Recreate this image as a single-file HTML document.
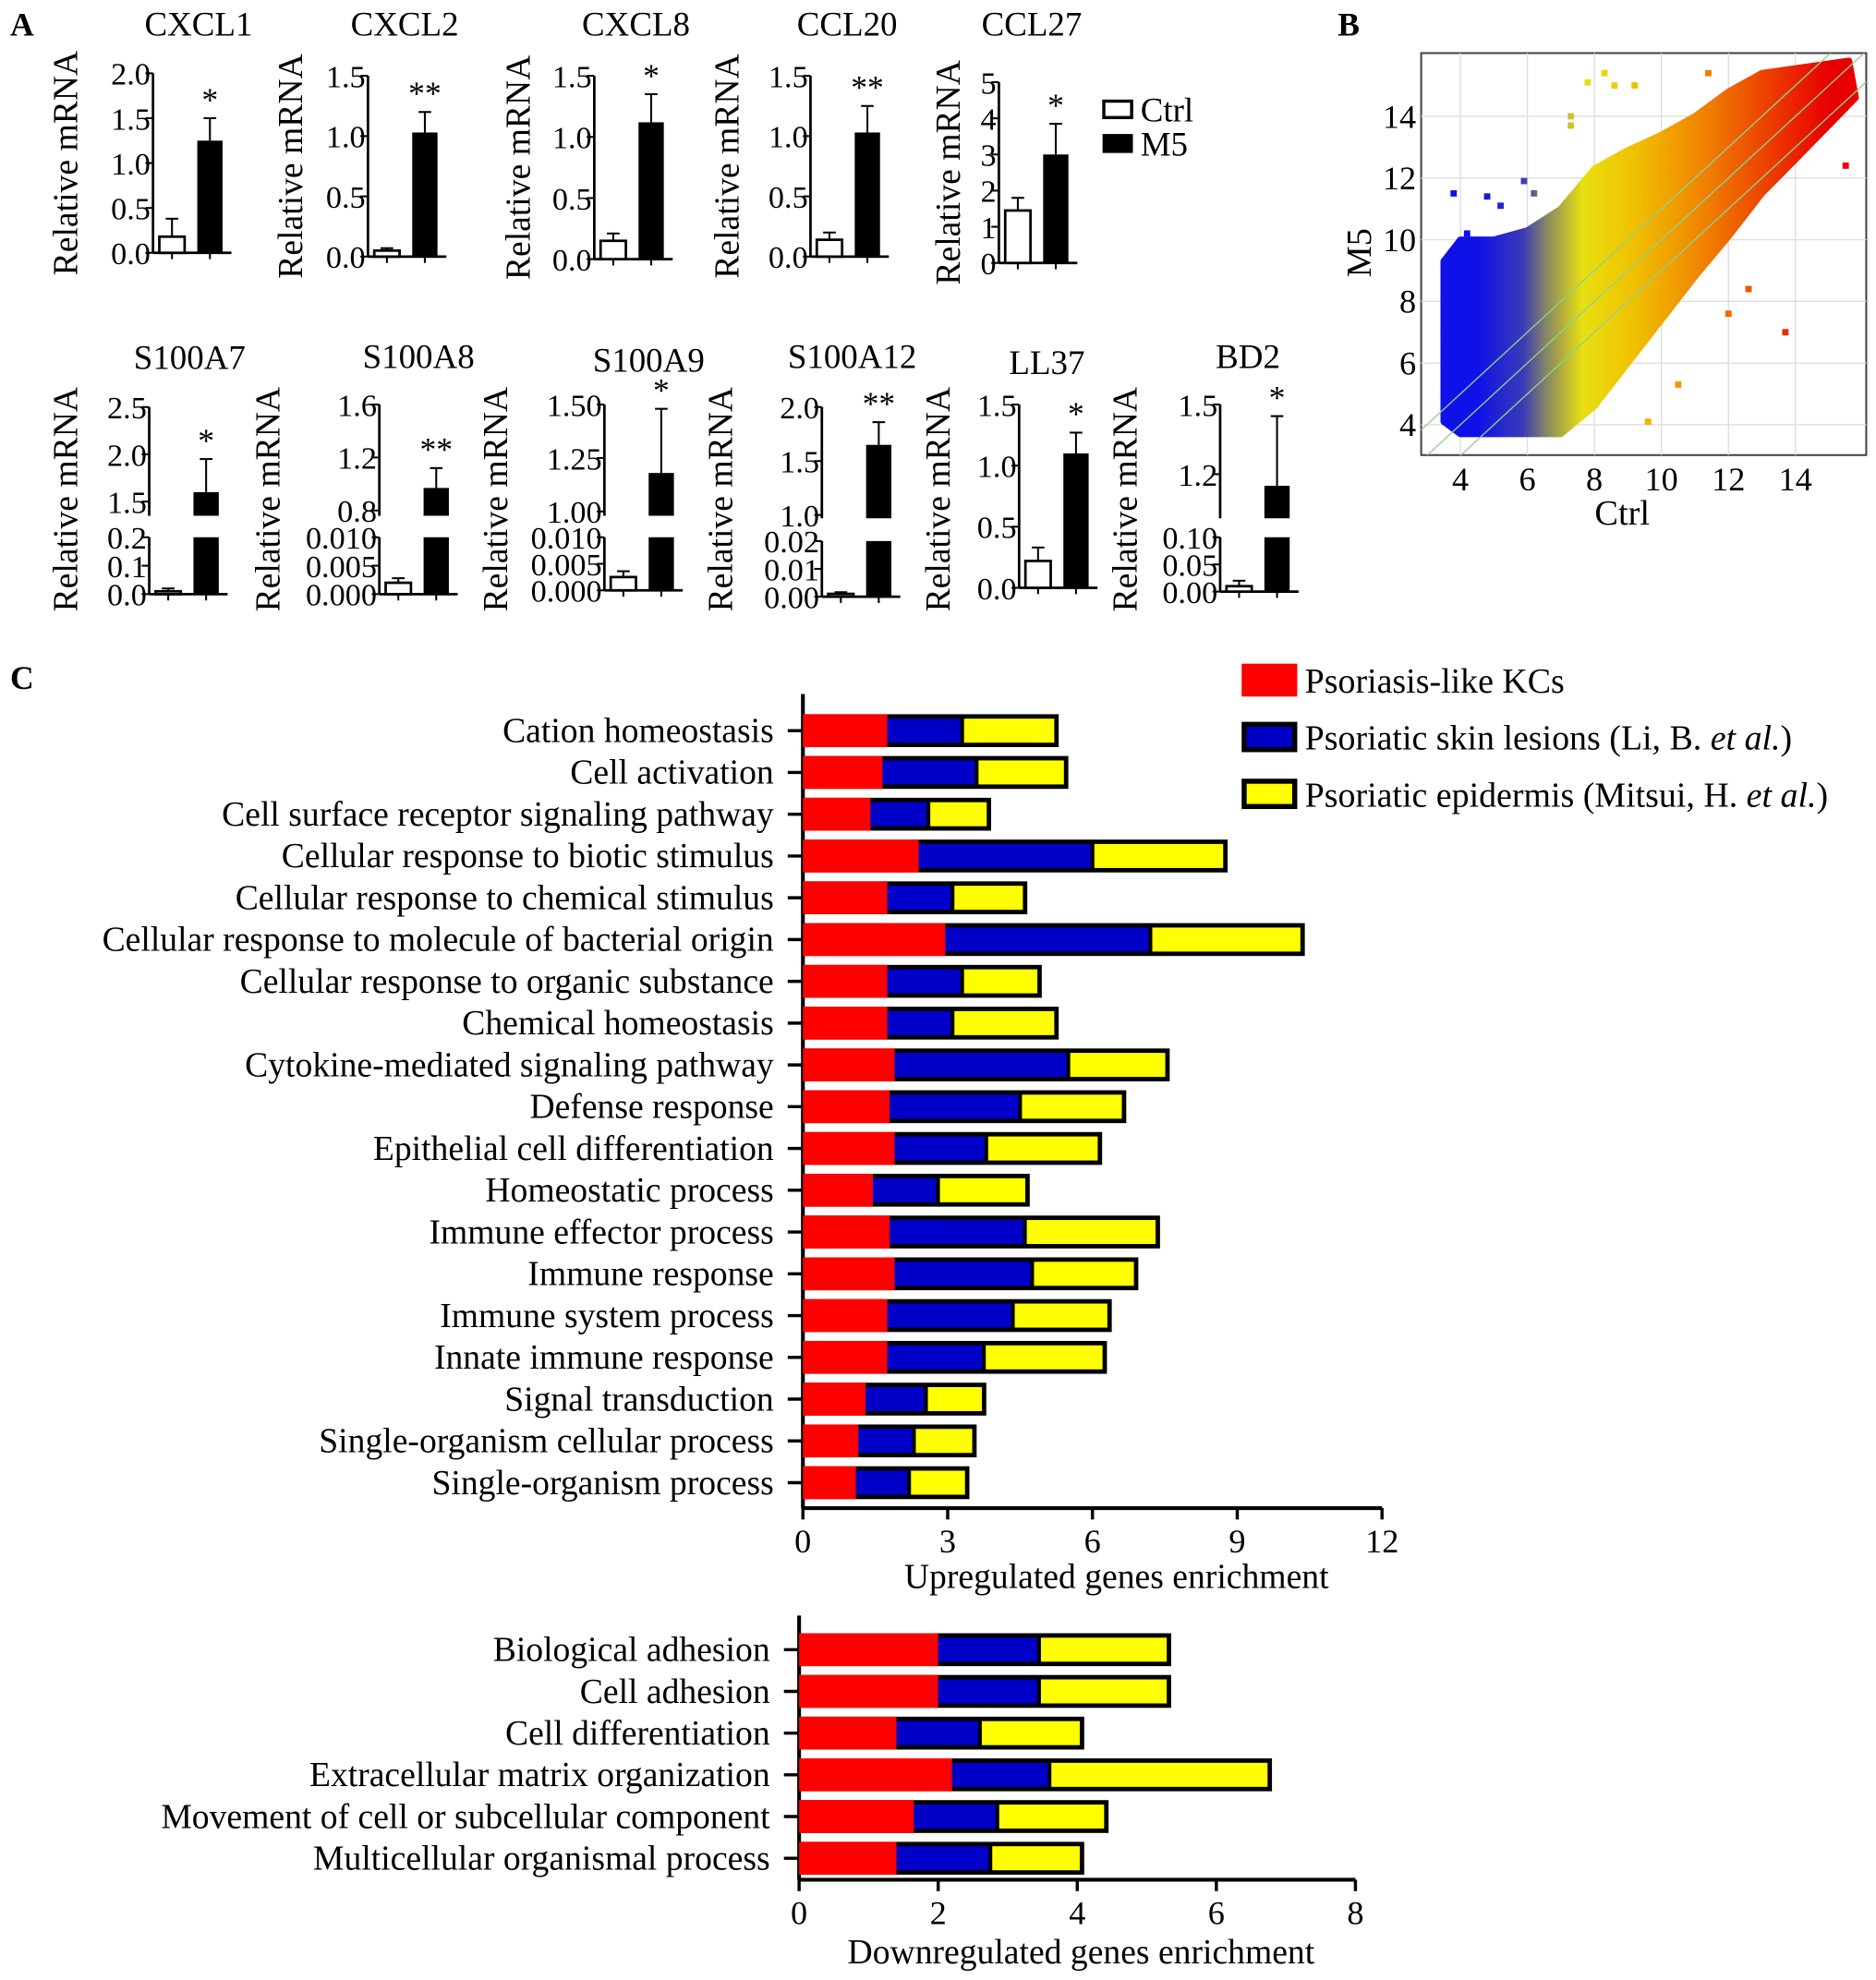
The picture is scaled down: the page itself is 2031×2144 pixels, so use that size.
<!DOCTYPE html>
<html><head><meta charset="utf-8"><style>
html,body{margin:0;padding:0;background:#fff}
svg{display:block}
text{font-family:"Liberation Serif",serif;fill:#000}
</style></head><body>
<svg id="fig" xmlns="http://www.w3.org/2000/svg" width="2031" height="2144" viewBox="0 0 1483.7 1566.3">
<rect width="1483.7" height="1566.3" fill="#fff"/>
<text x="8" y="28" font-size="26" font-weight="bold">A</text>
<text x="1058" y="28" font-size="26" font-weight="bold">B</text>
<text x="8" y="545" font-size="26" font-weight="bold">C</text>
<g id="pa"></g>
<g id="pb"></g>
<g id="pc"></g>
</svg>
<script>
// ---- Panel A data ----
const genesTop = ["CXCL1","CXCL2","CXCL8","CCL20","CCL27"];
const ctrlTop = [0.18,0.05,0.15,0.14,1.45];
const ctrlTopErr = [0.38,0.07,0.21,0.2,1.8];
const m5Top = [1.25,1.03,1.12,1.03,3.0];
const m5TopErr = [1.5,1.2,1.35,1.25,3.85];
const sigTop = ["*","**","*","**","*"];
const ticksTop = [["0.0","0.5","1.0","1.5","2.0"],["0.0","0.5","1.0","1.5"],["0.0","0.5","1.0","1.5"],["0.0","0.5","1.0","1.5"],["0","1","2","3","4","5"]];
const genesBot = ["S100A7","S100A8","S100A9","S100A12","LL37","BD2"];
const ctrlBot = [0.01,0.002,0.0025,0.001,0.22,0.01];
const ctrlBotErr = [0.02,0.0028,0.0036,0.0016,0.33,0.02];
const m5Bot = [1.6,0.97,1.18,1.65,1.1,1.15];
const m5BotErr = [1.95,1.12,1.48,1.86,1.27,1.45];
const sigBot = ["*","**","*","**","*","*"];
const ticksBotLow = [["0.0","0.1","0.2"],["0.000","0.005","0.010"],["0.000","0.005","0.010"],["0.00","0.01","0.02"],["0.0","0.5","1.0","1.5"],["0.00","0.05","0.10"]];
const ticksBotUp = [["1.5","2.0","2.5"],["0.8","1.2","1.6"],["1.00","1.25","1.50"],["1.0","1.5","2.0"],[],["1.2","1.5"]];

// ---- Panel B data ----
const bandUpperX = [3.5,4,5,6,7,8,9,10,11,12,13,15.6];
const bandUpperY = [9.3,10,10,10.3,11,12.3,12.9,13.4,14,14.8,15.4,15.8];
const bandLowerX = [15.8,14,13,12,11,10,9,8,7,6,5,4,3.5];
const bandLowerY = [14.6,12.6,11.5,10.1,8.8,7.4,6,4.6,3.7,3.7,3.7,3.7,4.1];
const outX = [3.8,4.8,5.2,5.9,6.2,7.3,7.8,8.3,8.6,9.2,7.3,11.4,12.6,13.7,15.5,12.0,9.6,10.5,4.2,3.5];
const outY = [11.5,11.4,11.1,11.9,11.5,14.0,15.1,15.4,15.0,15.0,13.7,15.4,8.4,7.0,12.4,7.6,4.1,5.3,10.2,6.9];

// ---- Panel C data ----
const upCats = ["Cation homeostasis","Cell activation","Cell surface receptor signaling pathway","Cellular response to biotic stimulus","Cellular response to chemical stimulus","Cellular response to molecule of bacterial origin","Cellular response to organic substance","Chemical homeostasis","Cytokine-mediated signaling pathway","Defense response","Epithelial cell differentiation","Homeostatic process","Immune effector process","Immune response","Immune system process","Innate immune response","Signal transduction","Single-organism cellular process","Single-organism process"];
const upKC = [1.75,1.65,1.4,2.4,1.75,2.95,1.75,1.75,1.9,1.8,1.9,1.45,1.8,1.9,1.75,1.75,1.3,1.15,1.1];
const upLi = [1.55,1.95,1.2,3.6,1.35,4.25,1.55,1.35,3.6,2.7,1.9,1.35,2.8,2.85,2.6,2.0,1.25,1.15,1.1];
const upMitsui = [2.0,1.9,1.3,2.8,1.55,3.2,1.65,2.2,2.1,2.2,2.4,1.9,2.8,2.2,2.05,2.55,1.25,1.3,1.25];
const upTicks = [0,3,6,9,12];
const downCats = ["Biological adhesion","Cell adhesion","Cell differentiation","Extracellular matrix organization","Movement of cell or subcellular component","Multicellular organismal process"];
const downKC = [2.0,2.0,1.4,2.2,1.65,1.4];
const downLi = [1.45,1.45,1.2,1.4,1.2,1.35];
const downMitsui = [1.9,1.9,1.5,3.2,1.6,1.35];
const downTicks = [0,2,4,6,8];

const NS = "http://www.w3.org/2000/svg";
function mk(tag, at, parent){ const e=document.createElementNS(NS,tag); for(const k in at) e.setAttribute(k,at[k]); parent.appendChild(e); return e; }
function txt(s, at, parent){ const e=mk("text",at,parent); e.textContent=s; return e; }

// ===== Panel A =====
const pa = document.getElementById("pa");
const topLayout = [
 {ax:121,yT:58,yB:200,max:2.0,tx:157,lx:52},
 {ax:291,yT:60,yB:203,max:1.5,tx:320,lx:230},
 {ax:470,yT:60,yB:205,max:1.5,tx:503,lx:410},
 {ax:641,yT:60,yB:203,max:1.5,tx:670,lx:575},
 {ax:790,yT:65,yB:208,max:5,tx:816,lx:750}];
function drawErr(g,x,y1,y2){
  const l=mk("line",{x1:x,x2:x,y1:y1,y2:y2,stroke:"#000","stroke-width":1.5},g);
   
  const c=mk("line",{x1:x-5,x2:x+5,y1:y2,y2:y2,stroke:"#000","stroke-width":1.5},g);
   
}
function barChartCommon(g,L,title,ty,lyc){
  const t=txt(title,{x:L.tx,y:ty,"font-size":27,"text-anchor":"middle"},g);
   
  const yl=txt("Relative mRNA",{x:0,y:0,"font-size":27.5,"text-anchor":"middle",transform:`translate(${L.lx+9},${lyc}) rotate(-90)`},g);
   
}
genesTop.forEach((gname,i)=>{
  const L=topLayout[i];
  const g=mk("g",{},pa);
   
  const y=v=>L.yB-(v/L.max)*(L.yB-L.yT);
  barChartCommon(g,L,gname,28,(L.yT+L.yB)/2);
  const ax=mk("line",{x1:L.ax,x2:L.ax,y1:L.yT,y2:L.yB,stroke:"#000","stroke-width":2},g);
   
  const bl=mk("line",{x1:L.ax,x2:L.ax+62,y1:L.yB,y2:L.yB,stroke:"#000","stroke-width":2},g);
   
  const tk=ticksTop[i]; const step=L.max/(tk.length-1);
  tk.forEach((s,j)=>{ const yy=y(j*step);
    const tl=mk("line",{x1:L.ax-6,x2:L.ax,y1:yy,y2:yy,stroke:"#000","stroke-width":1.5},g);
     
    const tt=txt(s,{x:L.ax-2,y:yy+9,"font-size":25,"text-anchor":"end"},g);
     
  });
  [L.ax+15,L.ax+45].forEach(xx=>{const m=mk("line",{x1:xx,x2:xx,y1:L.yB,y2:L.yB+5,stroke:"#000","stroke-width":1.5},g);
     });
  drawErr(g,L.ax+15,y(ctrlTop[i]),y(ctrlTopErr[i]));
  drawErr(g,L.ax+45,y(m5Top[i]),y(m5TopErr[i]));
  const b1=mk("rect",{x:L.ax+5,y:y(ctrlTop[i]),width:20,height:L.yB-y(ctrlTop[i]),fill:"#fff",stroke:"#000","stroke-width":2},g);
   
  const b2=mk("rect",{x:L.ax+35,y:y(m5Top[i]),width:20,height:L.yB-y(m5Top[i]),fill:"#000"},g);
   
  const st=txt(sigTop[i],{x:L.ax+45,y:y(m5TopErr[i])-6,"font-size":26,"text-anchor":"middle"},g);
   
});
// legend A
{
 const lg=mk("g",{},pa);  
 const r1=mk("rect",{x:873,y:80,width:22,height:13,fill:"#fff",stroke:"#000","stroke-width":2.5},lg);
  
 const t1=txt("Ctrl",{x:902,y:96,"font-size":27},lg);
  
 const r2=mk("rect",{x:872,y:106,width:24,height:15,fill:"#000"},lg);
  
 const t2=txt("M5",{x:902,y:123,"font-size":27},lg);
  
}
const botLayout = [
 {ax:118,yB:470,yLT:425,loMax:0.2,yBr:408,yT:322,upMin:1.35,upMax:2.5,tx:150,ty:292,lx:52},
 {ax:300,yB:470,yLT:425,loMax:0.010,yBr:408,yT:320,upMin:0.76,upMax:1.6,tx:331,ty:291,lx:212},
 {ax:478,yB:467,yLT:425,loMax:0.010,yBr:408,yT:320,upMin:0.98,upMax:1.5,tx:513,ty:294,lx:392},
 {ax:650,yB:472,yLT:428,loMax:0.02,yBr:410,yT:322,upMin:0.97,upMax:2.0,tx:674,ty:291,lx:570},
 {ax:806,yB:465,yLT:320,loMax:1.5,yBr:null,tx:828,ty:296,lx:742},
 {ax:965,yB:468,yLT:425,loMax:0.10,yBr:410,yT:320,upMin:1.01,upMax:1.5,tx:987,ty:291,lx:890}];
genesBot.forEach((gname,i)=>{
  const L=botLayout[i];
  const g=mk("g",{},pa);
   
  const broken = L.yBr!==null;
  const y=v=>{ if(v<=L.loMax||!broken) return L.yB-(v/L.loMax)*(L.yB-L.yLT);
    return L.yBr-((v-L.upMin)/(L.upMax-L.upMin))*(L.yBr-L.yT); };
  barChartCommon(g,L,gname,L.ty,395);
  const a1=mk("line",{x1:L.ax,x2:L.ax,y1:L.yLT,y2:L.yB,stroke:"#000","stroke-width":2},g);
   
  if(broken){ const a2=mk("line",{x1:L.ax,x2:L.ax,y1:L.yT,y2:L.yBr,stroke:"#000","stroke-width":2},g);
      }
  const bl=mk("line",{x1:L.ax,x2:L.ax+62,y1:L.yB,y2:L.yB,stroke:"#000","stroke-width":2},g);
   
  const lo=ticksBotLow[i];
  lo.forEach((s,j)=>{ const yy=L.yB-(j/(lo.length-1))*(L.yB-L.yLT);
    const tl=mk("line",{x1:L.ax-6,x2:L.ax,y1:yy,y2:yy,stroke:"#000","stroke-width":1.5},g);
     
    const tt=txt(s,{x:L.ax-2,y:yy+9,"font-size":25,"text-anchor":"end"},g);
     });
  ticksBotUp[i].forEach(s=>{ const yy=y(parseFloat(s));
    const tl=mk("line",{x1:L.ax-6,x2:L.ax,y1:yy,y2:yy,stroke:"#000","stroke-width":1.5},g);
     
    const tt=txt(s,{x:L.ax-2,y:yy+9,"font-size":25,"text-anchor":"end"},g);
     });
  [L.ax+15,L.ax+45].forEach(xx=>{const m=mk("line",{x1:xx,x2:xx,y1:L.yB,y2:L.yB+5,stroke:"#000","stroke-width":1.5},g);
     });
  drawErr(g,L.ax+15,y(ctrlBot[i]),y(ctrlBotErr[i]));
  drawErr(g,L.ax+45,y(m5Bot[i]),y(m5BotErr[i]));
  const b1=mk("rect",{x:L.ax+5,y:y(ctrlBot[i]),width:20,height:Math.max(2,L.yB-y(ctrlBot[i])),fill:"#fff",stroke:"#000","stroke-width":2},g);
   
  if(broken && m5Bot[i]>L.loMax){
    const b2=mk("rect",{x:L.ax+35,y:L.yLT,width:20,height:L.yB-L.yLT,fill:"#000"},g);
     
    const b3=mk("rect",{x:L.ax+35,y:y(m5Bot[i]),width:20,height:L.yBr-y(m5Bot[i]),fill:"#000"},g);
     
  } else {
    const b2=mk("rect",{x:L.ax+35,y:y(m5Bot[i]),width:20,height:L.yB-y(m5Bot[i]),fill:"#000"},g);
     
  }
  const st=txt(sigBot[i],{x:L.ax+45,y:y(m5BotErr[i])-6,"font-size":26,"text-anchor":"middle"},g);
   
});

// ===== Panel B =====
const pb=document.getElementById("pb");
const BX0=1124,BX1=1476,BY0=42,BY1=360;
const bx=v=>1155+(v-4)*26.5, by=v=>336-(v-4)*24.4;
{
 const defs=mk("defs",{},pb);
 const lg=mk("linearGradient",{id:"sg",gradientUnits:"userSpaceOnUse",x1:bx(4.5),y1:0,x2:bx(15),y2:0},defs);
 [[0,"#1010e8"],[0.13,"#3a3ab8"],[0.2,"#8a8a60"],[0.3,"#e8e010"],[0.45,"#f0c000"],[0.65,"#f08000"],[1,"#e80000"]].forEach(s=>mk("stop",{offset:s[0],"stop-color":s[1]},lg));
 const cp=mk("clipPath",{id:"bclip"},defs); mk("rect",{x:BX0,y:BY0,width:BX1-BX0,height:BY1-BY0},cp);
 const frame=mk("rect",{x:BX0,y:BY0,width:BX1-BX0,height:BY1-BY0,fill:"#fff",stroke:"#444","stroke-width":1.5},pb);
  
 [4,6,8,10,12,14].forEach(v=>{
  const gx=mk("line",{x1:bx(v),x2:bx(v),y1:BY0,y2:BY1,stroke:"#ddd","stroke-width":1},pb);
   
  const gy=mk("line",{x1:BX0,x2:BX1,y1:by(v),y2:by(v),stroke:"#ddd","stroke-width":1},pb);
   
  const tx=txt(String(v),{x:bx(v),y:388,"font-size":26.5,"text-anchor":"middle"},pb);
   
  const ty=txt(String(v),{x:BX0-4,y:by(v)+9,"font-size":26.5,"text-anchor":"end"},pb);
   
 });
 const cg=mk("g",{"clip-path":"url(#bclip)"},pb);
 let d="M"+bandUpperX.map((x,k)=>bx(x)+","+by(bandUpperY[k])).join(" L");
 d+=" L"+bandLowerX.map((x,k)=>bx(x)+","+by(bandLowerY[k])).join(" L")+" Z";
 const band=mk("path",{d:d,fill:"url(#sg)","stroke":"url(#sg)","stroke-width":5,"stroke-linejoin":"round"},cg);
  
 outX.forEach((x,k)=>{const p=mk("rect",{x:bx(x)-2.5,y:by(outY[k])-2.5,width:5,height:5,fill:"url(#sg)"},cg);
    });
 [-1,0,1].forEach(o=>{const l=mk("line",{x1:bx(2.5),y1:by(2.5+o),x2:bx(17),y2:by(17+o),stroke:"#8fd08f","stroke-width":1},cg);
    });
 const xt=txt("Ctrl",{x:1283,y:415,"font-size":28,"text-anchor":"middle"},pb);
  
 const yt=txt("M5",{x:0,y:0,"font-size":28,"text-anchor":"middle",transform:"translate(1084,200) rotate(-90)"},pb);
  
}

// ===== Panel C =====
const pc=document.getElementById("pc");
const colors=["#ff0000","#0000c8","#ffff00"];
function hbar(cfg,cats,a,b,c,ticks,title){
  const g=mk("g",{},pc);
   
  const sx=v=>cfg.x0+v*cfg.k;
  const yAx=mk("line",{x1:cfg.x0,x2:cfg.x0,y1:cfg.yT,y2:cfg.yB,stroke:"#000","stroke-width":3},g);
   
  const xAx=mk("line",{x1:cfg.x0,x2:sx(ticks[ticks.length-1]),y1:cfg.yB,y2:cfg.yB,stroke:"#000","stroke-width":3},g);
   
  ticks.forEach(t=>{
    const tl=mk("line",{x1:sx(t),x2:sx(t),y1:cfg.yB,y2:cfg.yB+9,stroke:"#000","stroke-width":2.5},g);
     
    const tt=txt(String(t),{x:sx(t),y:cfg.yB+35,"font-size":26.5,"text-anchor":"middle"},g);
     
  });
  const ti=txt(title,{x:cfg.titleX,y:cfg.titleY,"font-size":27.5,"text-anchor":"middle"},g);
   
  cats.forEach((cat,i)=>{
    const yc=cfg.y0+i*cfg.dy, h=26;
    const lab=txt(cat,{x:cfg.x0-23,y:yc+9,"font-size":27.5,"text-anchor":"end"},g);
     
    const tk=mk("line",{x1:cfg.x0-12,x2:cfg.x0,y1:yc,y2:yc,stroke:"#000","stroke-width":2.5},g);
     
    const total=a[i]+b[i]+c[i];
    const out=mk("rect",{x:cfg.x0,y:yc-h/2,width:total*cfg.k,height:h,fill:"#000"},g);
     
    const r=mk("rect",{x:cfg.x0,y:yc-h/2,width:a[i]*cfg.k,height:h,fill:colors[0]},g);
     
    const bb=mk("rect",{x:sx(a[i]),y:yc-h/2+3.5,width:b[i]*cfg.k-1.5,height:h-7,fill:colors[1]},g);
     
    const yy=mk("rect",{x:sx(a[i]+b[i])+1.5,y:yc-h/2+3.5,width:c[i]*cfg.k-5,height:h-7,fill:colors[2]},g);
     
  });
}
hbar({name:'upregulated-chart',x0:635,k:38.17,y0:578,dy:33.05,yT:549,yB:1193,titleX:883,titleY:1256},upCats,upKC,upLi,upMitsui,upTicks,"Upregulated genes enrichment");
hbar({name:'downregulated-chart',x0:632,k:55,y0:1305,dy:33,yT:1278,yB:1487,titleX:855,titleY:1553},downCats,downKC,downLi,downMitsui,downTicks,"Downregulated genes enrichment");
// legend C
{
 const lg=mk("g",{},pc);  
 const items=[["Psoriasis-like KCs",""],["Psoriatic skin lesions (Li, B. ","et al.",")"],["Psoriatic epidermis (Mitsui, H. ","et al.",")"]];
 items.forEach((it,i)=>{
   const yc=538+i*45;
   if(i===0){ const r=mk("rect",{x:982,y:yc-13,width:44,height:26,fill:"#ff0000"},lg);
       }
   else { const o=mk("rect",{x:982,y:yc-12,width:44,height:24,fill:"#000"},lg);
      
     const r=mk("rect",{x:986,y:yc-8,width:36,height:16,fill:colors[i]},lg);
       }
   const t=mk("text",{x:1032,y:yc+10,"font-size":27.7},lg);
    
   const s1=mk("tspan",{},t); s1.textContent=it[0];
   if(it[1]){ const s2=mk("tspan",{"font-style":"italic"},t); s2.textContent=it[1];
     const s3=mk("tspan",{},t); s3.textContent=it[2]; }
 });
}
</script>
</body></html>
